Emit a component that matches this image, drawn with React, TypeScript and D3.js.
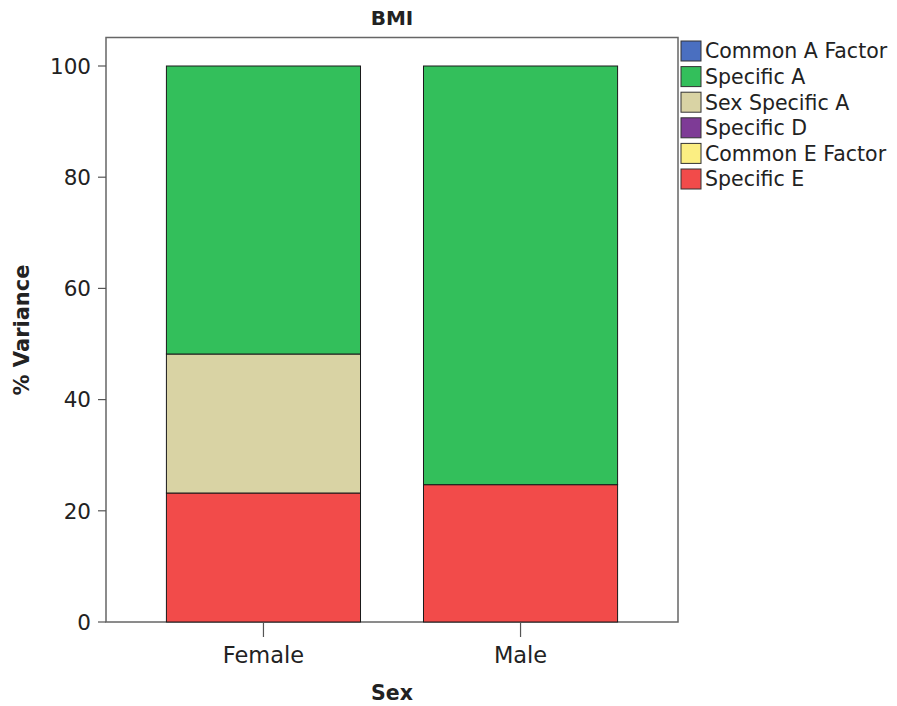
import React from "react";
import * as d3 from "d3";

const categories = ["Female", "Male"];
const seriesNames = ["Common A Factor", "Specific A", "Sex Specific A", "Specific D", "Common E Factor", "Specific E"];
const seriesColors = ["#4a6fc0", "#33bf5b", "#d9d3a4", "#7e3b96", "#fbee82", "#f24b4a"];
// values per category in stacking order from bottom: Specific E, Common E, Specific D, Sex Specific A, Specific A, Common A
const specificE = [23.2, 24.7];
const commonE = [0, 0];
const specificD = [0, 0];
const sexSpecificA = [25.0, 0];
const specificA = [51.8, 75.3];
const commonA = [0, 0];
const yTicks = [0, 20, 40, 60, 80, 100];

export default function App() {
  const W = 897, H = 706;
  const left = 106, right = 678, top = 37.5, bottom = 622;
  const y = d3.scaleLinear().domain([0, 100]).range([bottom, 66]);
  const x = d3.scaleBand().domain(categories).range([left, right]).paddingInner(0.245).paddingOuter(0.235);

  const stackOrder = [
    { name: "Specific E", vals: specificE },
    { name: "Common E Factor", vals: commonE },
    { name: "Specific D", vals: specificD },
    { name: "Sex Specific A", vals: sexSpecificA },
    { name: "Specific A", vals: specificA },
    { name: "Common A Factor", vals: commonA },
  ];
  const rows = categories.map((c, i) => {
    const r: any = { cat: c };
    stackOrder.forEach((s) => (r[s.name] = s.vals[i]));
    return r;
  });
  const stacked = d3.stack().keys(stackOrder.map((s) => s.name))(rows);
  const color = d3.scaleOrdinal<string, string>().domain(seriesNames).range(seriesColors);

  const font = "'DejaVu Sans', sans-serif";
  return (
    <svg width={W} height={H} style={{ position: "absolute", left: 0, top: 0, background: "#fff" }} fontFamily={font}>
      <rect x={0} y={0} width={W} height={H} fill="#fff" />
      <text x={392} y={25} textAnchor="middle" fontWeight="bold" fontSize={20} fill="#222">BMI</text>
      <rect x={left} y={top} width={right - left} height={bottom - top} fill="none" stroke="#666" strokeWidth={1.5} />
      {stacked.map((layer) =>
        layer.map((d, i) => {
          const h = y(d[0]) - y(d[1]);
          if (h <= 0) return null;
          return (
            <rect key={layer.key + i} x={x(categories[i])!} y={y(d[1])} width={x.bandwidth()} height={h}
              fill={color(layer.key)} stroke="#1a1a1a" strokeWidth={1} />
          );
        })
      )}
      {yTicks.map((t) => (
        <g key={t}>
          <line x1={left - 8} x2={left} y1={y(t)} y2={y(t)} stroke="#555" strokeWidth={1.2} />
          <text x={left - 15} y={y(t)} dy="0.36em" textAnchor="end" fontSize={21.5} fill="#222">{t}</text>
        </g>
      ))}
      {categories.map((c) => {
        const cx = x(c)! + x.bandwidth() / 2;
        return (
          <g key={c}>
            <line x1={cx} x2={cx} y1={bottom} y2={bottom + 15} stroke="#555" strokeWidth={1.2} />
            <text x={cx} y={663} textAnchor="middle" fontSize={22.5} fill="#222">{c}</text>
          </g>
        );
      })}
      <text x={392} y={700} textAnchor="middle" fontWeight="bold" fontSize={20.5} fill="#222">Sex</text>
      <text transform={`translate(29,330) rotate(-90)`} textAnchor="middle" fontWeight="bold" fontSize={21} fill="#222">% Variance</text>
      {seriesNames.map((n, i) => (
        <g key={n} transform={`translate(681,${41 + i * 25.6})`}>
          <rect x={0} y={0} width={20} height={20} fill={color(n)} stroke="#333" strokeWidth={1} />
          <text x={24} y={10} dy="0.36em" fontSize={20.5} fill="#222">{n}</text>
        </g>
      ))}
    </svg>
  );
}
